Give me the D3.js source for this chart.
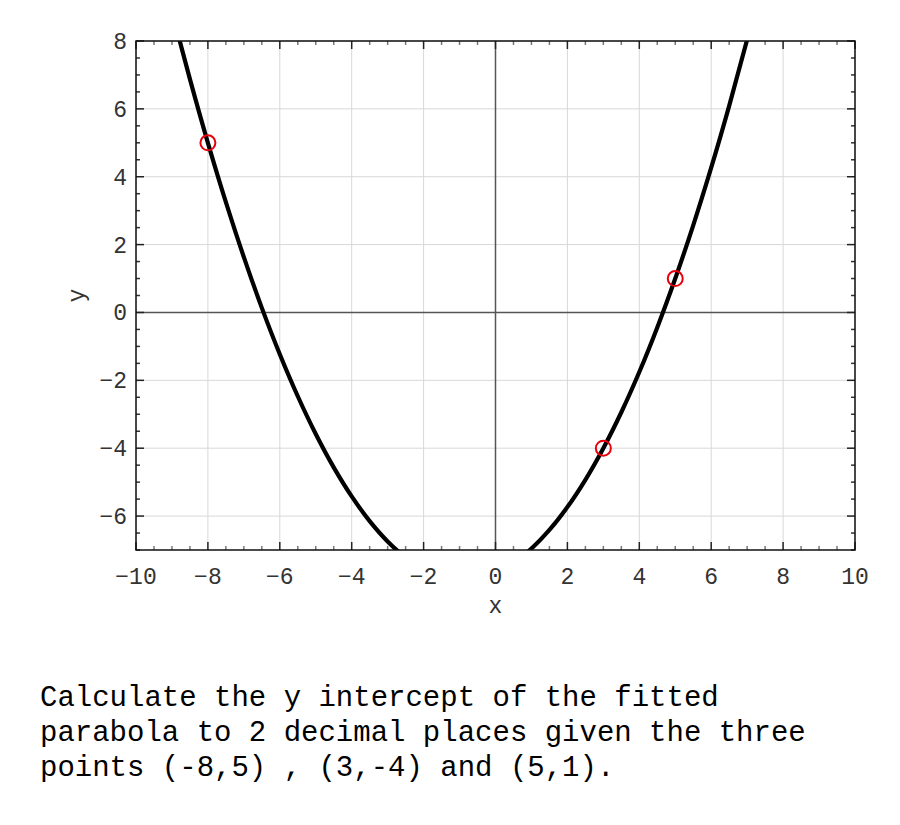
<!DOCTYPE html>
<html>
<head>
<meta charset="utf-8">
<script src="https://cdn.jsdelivr.net/npm/d3@7"></script>
<style>
  html, body { margin: 0; padding: 0; background: #fff; }
  svg { display: block; }
</style>
</head>
<body>
<svg id="chart" width="900" height="825"></svg>
<script>
// Data points (red circles)
const pointX = [-8, 3, 5];
const pointY = [5, -4, 1];

const curveX = [-9, -8.5, -8, -7.5, -7, -6.5, -6, -5.5, -5, -4.5, -4, -3.5, -3, -2.5, -2, -1.5, -1, -0.5, 0, 0.5, 1, 1.5, 2, 2.5, 3, 3.5, 4, 4.5, 5, 5.5, 6, 6.5, 7, 7.5];
const curveY = [8.881, 6.877, 5.0, 3.251, 1.630, 0.135, -1.231, -2.469, -3.580, -4.564, -5.420, -6.148, -6.748, -7.221, -7.566, -7.784, -7.874, -7.837, -7.671, -7.378, -6.958, -6.410, -5.734, -4.931, -4.0, -2.941, -1.755, -0.441, 1.0, 2.569, 4.266, 6.090, 8.043, 10.122];

const xTicks = [-10, -8, -6, -4, -2, 0, 2, 4, 6, 8, 10];
const yTicks = [-6, -4, -2, 0, 2, 4, 6, 8];
const xDomain = [-10, 10];
const yDomain = [-7, 8];
const xLabel = "x";
const yLabel = "y";
const captionLines = [
  "Calculate the y intercept of the fitted",
  "parabola to 2 decimal places given the three",
  "points (-8,5) , (3,-4) and (5,1)."
];

const svg = d3.select("#chart");
const L = 136, R = 855, T = 41, B = 550;
const x = d3.scaleLinear().domain(xDomain).range([L, R]);
const y = d3.scaleLinear().domain(yDomain).range([B, T]);
const fmt = d => (d < 0 ? "\u2212" + Math.abs(d) : String(d));
const mono = "'Courier New', 'Nimbus Mono PS', 'FreeMono', 'Liberation Mono', monospace";

// grid
const g = svg.append("g");
g.selectAll("line.gx").data(xTicks).enter().append("line")
  .attr("x1", d => x(d)).attr("x2", d => x(d)).attr("y1", T).attr("y2", B)
  .attr("stroke", "#d8d8d8").attr("stroke-width", 1);
g.selectAll("line.gy").data(yTicks).enter().append("line")
  .attr("y1", d => y(d)).attr("y2", d => y(d)).attr("x1", L).attr("x2", R)
  .attr("stroke", "#d8d8d8").attr("stroke-width", 1);

// zero lines
g.append("line").attr("x1", x(0)).attr("x2", x(0)).attr("y1", T).attr("y2", B)
  .attr("stroke", "#555").attr("stroke-width", 1.5);
g.append("line").attr("y1", y(0)).attr("y2", y(0)).attr("x1", L).attr("x2", R)
  .attr("stroke", "#555").attr("stroke-width", 1.5);

// ticks (inward, all four sides)
const minorX = d3.range(-10, 10.001, 0.5).filter(v => Math.abs(v % 2) > 1e-9);
const minorY = d3.range(-7, 8.001, 0.5).filter(v => Math.abs(v % 2) > 1e-9);
function tickLinesX(vals, len, color) {
  vals.forEach(v => {
    g.append("line").attr("x1", x(v)).attr("x2", x(v)).attr("y1", B).attr("y2", B - len).attr("stroke", color).attr("stroke-width", 1.5);
    g.append("line").attr("x1", x(v)).attr("x2", x(v)).attr("y1", T).attr("y2", T + len).attr("stroke", color).attr("stroke-width", 1.5);
  });
}
function tickLinesY(vals, len, color) {
  vals.forEach(v => {
    g.append("line").attr("y1", y(v)).attr("y2", y(v)).attr("x1", L).attr("x2", L + len).attr("stroke", color).attr("stroke-width", 1.5);
    g.append("line").attr("y1", y(v)).attr("y2", y(v)).attr("x1", R).attr("x2", R - len).attr("stroke", color).attr("stroke-width", 1.5);
  });
}
tickLinesX(minorX, 4, "#777");
tickLinesY(minorY, 4, "#333");
tickLinesX(xTicks, 8, "#222");
tickLinesY(yTicks, 8, "#222");

// curve
svg.append("clipPath").attr("id", "clip").append("rect")
  .attr("x", L).attr("y", T).attr("width", R - L).attr("height", B - T);
const curveData = curveX.map((v, i) => [v, curveY[i]]);
const line = d3.line().x(d => x(d[0])).y(d => y(d[1])).curve(d3.curveCatmullRom);
svg.append("path").datum(curveData).attr("d", line)
  .attr("clip-path", "url(#clip)")
  .attr("fill", "none").attr("stroke", "#000").attr("stroke-width", 4.2);

// points
svg.selectAll("circle.pt").data(pointX).enter().append("circle")
  .attr("cx", d => x(d)).attr("cy", (d, i) => y(pointY[i])).attr("r", 7.5)
  .attr("fill", "none").attr("stroke", "#e8000b").attr("stroke-width", 2);

// frame
svg.append("rect").attr("x", L).attr("y", T).attr("width", R - L).attr("height", B - T)
  .attr("fill", "none").attr("stroke", "#111").attr("stroke-width", 1.5);

// tick labels
svg.selectAll("text.xt").data(xTicks).enter().append("text")
  .attr("x", d => x(d)).attr("y", 584).attr("text-anchor", "middle")
  .attr("font-family", mono).attr("font-size", 23).attr("fill", "#333")
  .text(fmt);
svg.selectAll("text.yt").data(yTicks).enter().append("text")
  .attr("x", 127).attr("y", d => y(d) + 8).attr("text-anchor", "end")
  .attr("font-family", mono).attr("font-size", 23).attr("fill", "#333")
  .text(fmt);

// axis labels
svg.append("text").attr("x", x(0)).attr("y", 613).attr("text-anchor", "middle")
  .attr("font-family", mono).attr("font-size", 23).attr("fill", "#333").text(xLabel);
svg.append("text").attr("transform", `translate(84, ${(T + B) / 2}) rotate(-90)`)
  .attr("text-anchor", "middle")
  .attr("font-family", mono).attr("font-size", 23).attr("fill", "#333").text(yLabel);

// caption
svg.selectAll("text.cap").data(captionLines).enter().append("text")
  .attr("x", 40).attr("y", (d, i) => 706 + i * 35)
  .attr("font-family", mono).attr("font-size", 29).attr("fill", "#000")
  .attr("xml:space", "preserve").style("white-space", "pre")
  .text(d => d);
</script>
</body>
</html>
